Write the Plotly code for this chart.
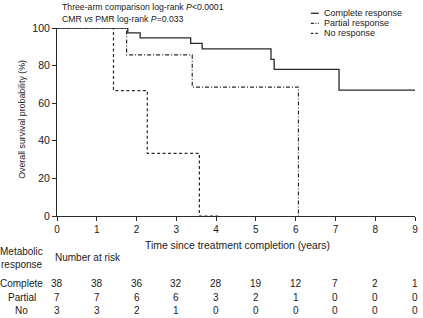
import plotly.graph_objects as go

# ---- data ----
complete_t = [0, 1.78, 2.09, 3.36, 3.65, 5.38, 5.46, 7.09, 9.0]
complete_s = [100, 97.4, 94.7, 91.8, 88.9, 83.3, 78.0, 67.0, 67.0]
partial_t = [0, 1.75, 3.4, 6.07]
partial_s = [100, 85.7, 68.6, 0]
none_t = [0, 1.42, 2.27, 3.58, 4.05]
none_s = [100, 66.7, 33.3, 0, 0]

years = [0, 1, 2, 3, 4, 5, 6, 7, 8, 9]
yticks = [0, 20, 40, 60, 80, 100]
risk_complete = [38, 38, 36, 32, 28, 19, 12, 7, 2, 1]
risk_partial = [7, 7, 6, 6, 3, 2, 1, 0, 0, 0]
risk_none = [3, 3, 2, 1, 0, 0, 0, 0, 0, 0]
row_labels = ["Complete", "Partial", "No"]
legend_names = ["Complete response", "Partial response", "No response"]

# ---- layout geometry ----
W, H = 423, 318
ML, MR, MT, MB = 57, 5, 28, 102
PW, PH = W - ML - MR, H - MT - MB
FONT = "Liberation Sans, Arial, sans-serif"
TXT = "#1a1a1a"
LINE = "#2a2a2a"


def px(xp):
    return (xp - ML) / PW


def py(yp):
    return (H - MB - yp) / PH


styles = [
    dict(color=LINE, width=1.3, dash="solid"),
    dict(color=LINE, width=1.2, dash="4px,2px,1px,2px"),
    dict(color=LINE, width=1.2, dash="3px,2.5px"),
]

fig = go.Figure()
for t, s, st, nm in zip([complete_t, partial_t, none_t],
                        [complete_s, partial_s, none_s], styles, legend_names):
    fig.add_trace(go.Scatter(x=t, y=s, mode="lines", line=dict(shape="hv", **st),
                             name=nm, showlegend=False, cliponaxis=False))

annotations = []
shapes = []

# top texts
annotations.append(dict(xref="paper", yref="paper", x=px(60), y=py(7),
                        xanchor="left", yanchor="middle", showarrow=False,
                        text="Three-arm comparison log-rank <i>P</i>&lt;0.0001",
                        font=dict(size=8.7, family=FONT, color=TXT)))
annotations.append(dict(xref="paper", yref="paper", x=px(60), y=py(19),
                        xanchor="left", yanchor="middle", showarrow=False,
                        text="CMR <i>vs</i> PMR log-rank <i>P</i>=0.033",
                        font=dict(size=8.7, family=FONT, color=TXT)))

# manual legend
leg_dash = ["solid", "3px,1.5px,1px,1.5px", "2.5px,2px"]
for i, (nm, st) in enumerate(zip(legend_names, styles)):
    yy = py(13.3 + 10 * i)
    shapes.append(dict(type="line", xref="paper", yref="paper",
                       x0=px(313), x1=px(321), y0=yy, y1=yy,
                       line=dict(color=st["color"], width=st["width"], dash=leg_dash[i])))
    annotations.append(dict(xref="paper", yref="paper", x=px(324), y=yy,
                            xanchor="left", yanchor="middle", showarrow=False,
                            text=nm, font=dict(size=9, family=FONT, color=TXT)))

# x axis title
annotations.append(dict(xref="paper", yref="paper", x=px(239), y=py(245),
                        xanchor="center", yanchor="middle", showarrow=False,
                        text="Time since treatment completion (years)",
                        font=dict(size=10.4, family=FONT, color=TXT)))

# y axis title
annotations.append(dict(xref="paper", yref="paper", x=px(21), y=py(119.5),
                        xanchor="center", yanchor="middle", showarrow=False,
                        textangle=-90, text="Overall survival probability (%)",
                        font=dict(size=8.8, family=FONT, color=TXT)))

# number-at-risk table
TF = 10
annotations.append(dict(xref="paper", yref="paper", x=px(21.5), y=py(251.7),
                        xanchor="center", yanchor="middle", showarrow=False,
                        text="Metabolic", font=dict(size=TF, family=FONT, color=TXT)))
annotations.append(dict(xref="paper", yref="paper", x=px(21.5), y=py(264),
                        xanchor="center", yanchor="middle", showarrow=False,
                        text="response", font=dict(size=TF, family=FONT, color=TXT)))
annotations.append(dict(xref="paper", yref="paper", x=px(53), y=py(257.5),
                        xanchor="left", yanchor="middle", showarrow=False,
                        text="Number at risk", font=dict(size=TF, family=FONT, color=TXT)))

row_y = [283.5, 297.3, 310.7]
for lab, vals, ry in zip(row_labels, [risk_complete, risk_partial, risk_none], row_y):
    annotations.append(dict(xref="paper", yref="paper", x=px(21.5), y=py(ry),
                            xanchor="center", yanchor="middle", showarrow=False,
                            text=lab, font=dict(size=TF, family=FONT, color=TXT)))
    for yr, v in zip(years, vals):
        annotations.append(dict(xref="x", yref="paper", x=yr, y=py(ry),
                                xanchor="center", yanchor="middle", showarrow=False,
                                text=str(v), font=dict(size=TF, family=FONT, color=TXT)))

fig.update_layout(
    width=W, height=H,
    margin=dict(l=ML, r=MR, t=MT, b=MB, pad=0),
    paper_bgcolor="white", plot_bgcolor="white",
    font=dict(family=FONT, color=TXT, size=10),
    showlegend=False,
    annotations=annotations,
    shapes=shapes,
    xaxis=dict(range=[0, 9], tickvals=years, ticktext=[str(y) for y in years],
               showgrid=False, zeroline=False, showline=True, linecolor=LINE,
               linewidth=1, ticks="outside", ticklen=4, tickcolor=LINE,
               tickfont=dict(size=10, family=FONT, color=TXT), fixedrange=True),
    yaxis=dict(range=[0, 100], tickvals=yticks, ticktext=[str(v) for v in yticks],
               showgrid=False, zeroline=False, showline=True, linecolor=LINE,
               linewidth=1, ticks="outside", ticklen=4, tickcolor=LINE,
               tickfont=dict(size=10.5, family=FONT, color=TXT), fixedrange=True),
)

fig.write_html(
    "out.html",
    config={"displayModeBar": False},
    post_script="document.body.style.margin='0';document.body.style.padding='0';"
                "document.body.style.overflow='hidden';",
)
